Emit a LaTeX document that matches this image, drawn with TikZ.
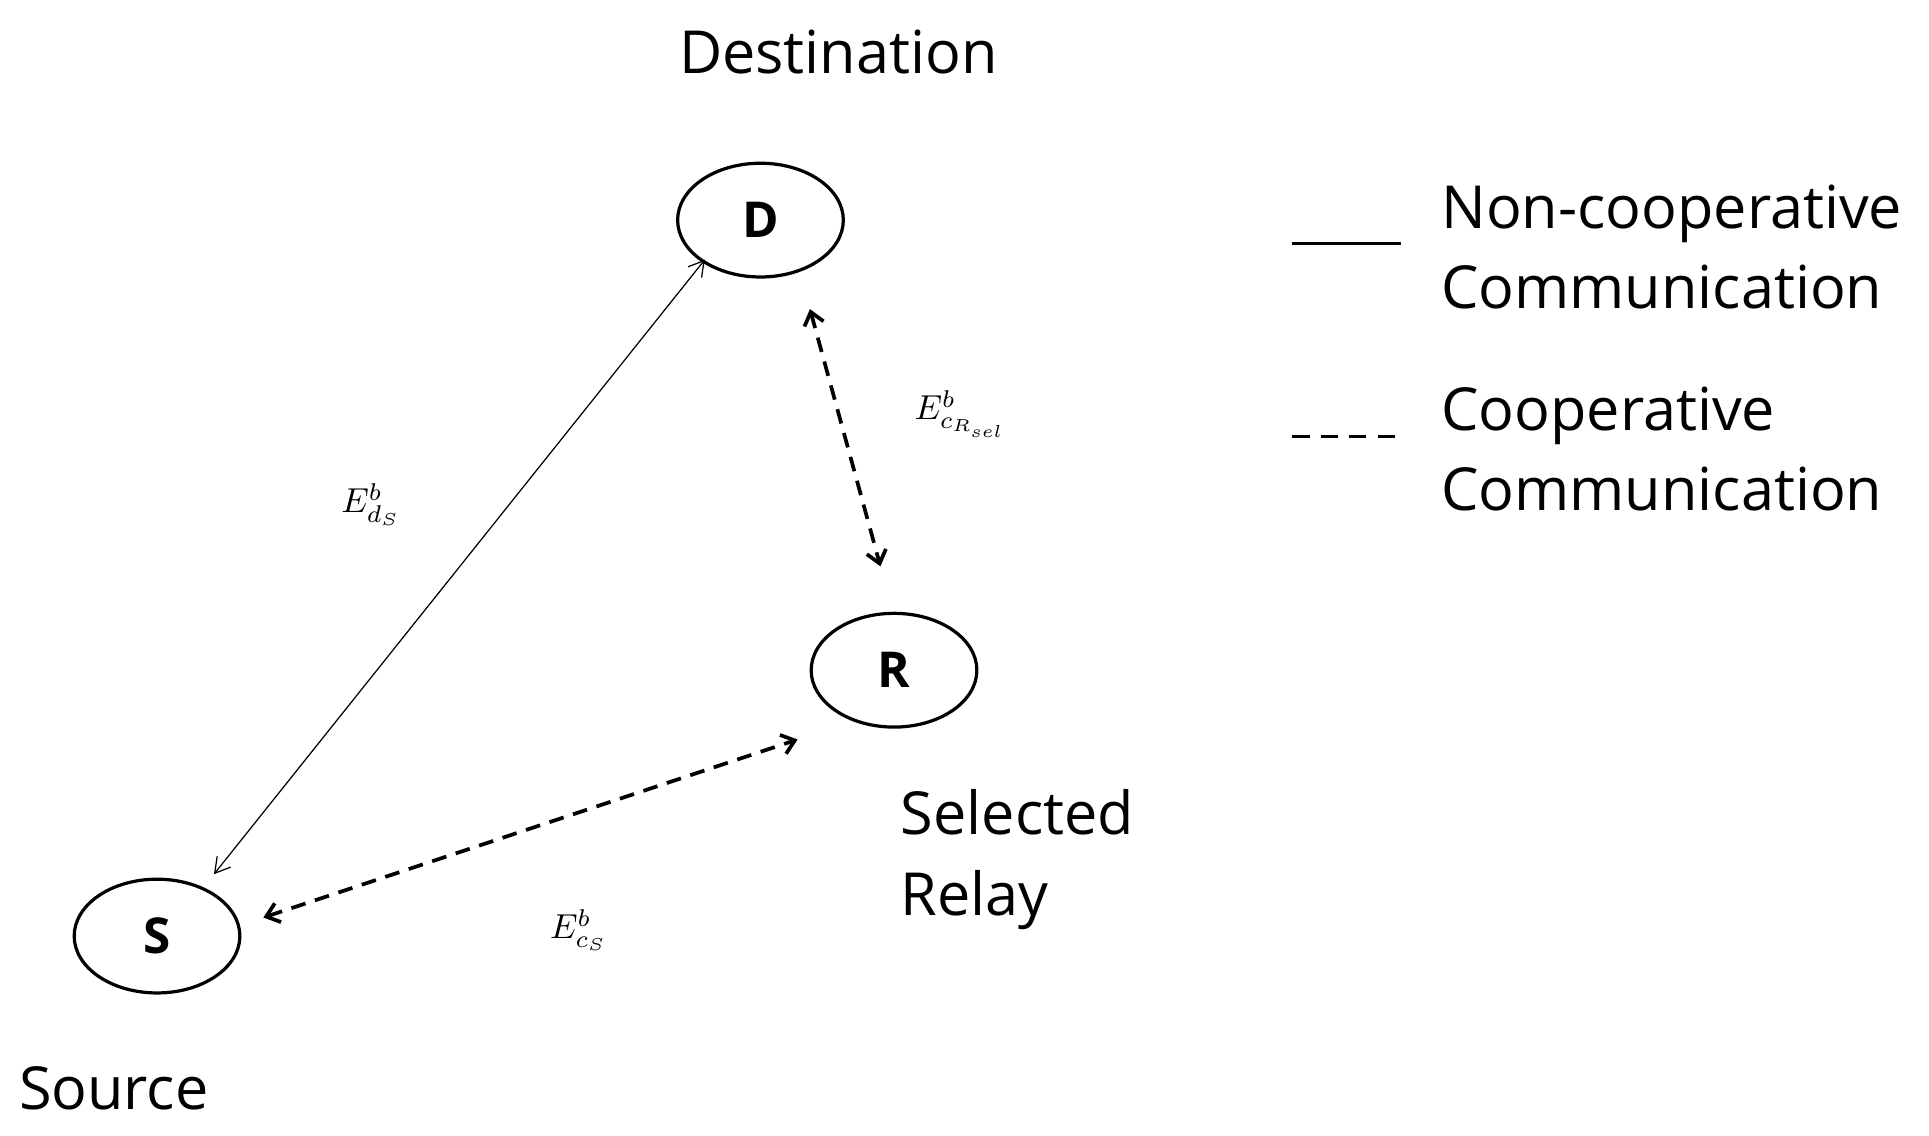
\documentclass[tikz,border=0pt]{standalone}
\usepackage{fontspec}
\setmainfont{Open Sans}
\usetikzlibrary{shapes.geometric,arrows.meta}
\begin{document}
\begin{tikzpicture}[x=1pt,y=-1pt,
  nd/.style={ellipse,draw,line width=2.6pt,minimum width=134pt,minimum height=92pt,inner sep=0pt,font=\fontsize{40}{48}\selectfont\bfseries},
  lbl/.style={font=\fontsize{48}{65}\selectfont},
  ml/.style={inner sep=0pt},
  sol/.style={line width=1pt,{Straight Barb[length=12pt,width=14pt]}-{Straight Barb[length=12pt,width=14pt]}},
  dsh/.style={line width=3pt,dash pattern=on 12pt off 8pt,{Straight Barb[length=10pt,width=16pt]}-{Straight Barb[length=10pt,width=16pt]}}]
\useasboundingbox (0,0) rectangle (1560,918);
\node[nd] (D) at (615,178) {D};
\node[nd] (R) at (723,542) {R};
\node[nd] (S) at (127,757) {S};
\node[lbl] (dl) at (678,42) {Destination};
\node[lbl] (sl) at (92,880) {Source};
\node[lbl,anchor=west,align=left] (rl) at (725,695) {Selected\\Relay};
\coordinate (a1) at (173,707); \coordinate (a2) at (570,210);
\coordinate (b1) at (655,250); \coordinate (b2) at (712,458);
\coordinate (c1) at (213,742); \coordinate (c2) at (645,598);
\draw[sol] (a1) -- (a2);
\draw[dsh] (b1) -- (b2);
\draw[dsh] (c1) -- (c2);
\node[ml] (e1) at (300,408) {\scalebox{2.8}{$E^b_{d_S}$}};
\node[ml] (e2) at (777,335) {\scalebox{2.8}{$E^b_{c_{R_{sel}}}$}};
\node[ml] (e3) at (468,752) {\scalebox{2.8}{$E^b_{c_S}$}};
\coordinate (l1) at (1045,197); \coordinate (l2) at (1133,197);
\coordinate (l3) at (1045,353); \coordinate (l4) at (1130,353);
\draw[line width=2.5pt] (l1) -- (l2);
\draw[line width=2.5pt,dash pattern=on 14pt off 9pt] (l3) -- (l4);
\node[lbl,anchor=west,align=left] (t1) at (1162,200) {Non-cooperative\\Communication};
\node[lbl,anchor=west,align=left] (t2) at (1162,363) {Cooperative\\Communication};
\end{tikzpicture}
\end{document}
